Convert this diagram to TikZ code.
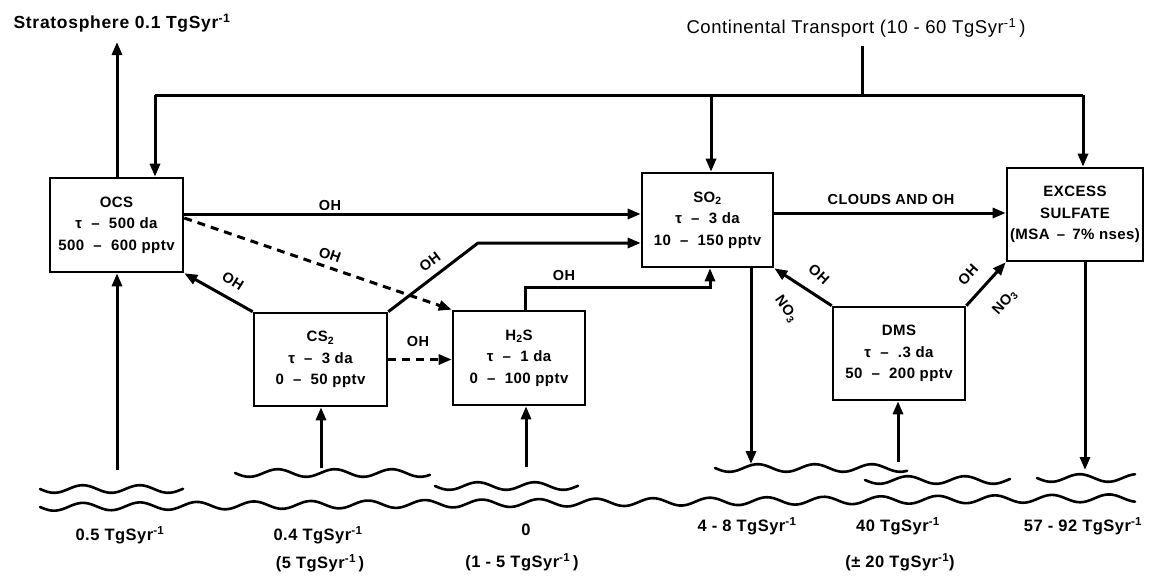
\documentclass[tikz,border=0pt]{standalone}
\usepackage{fontspec}
\setmainfont{Liberation Sans}
\usetikzlibrary{arrows.meta}
\newcommand\tgyr{TgSyr\textsuperscript{-1}}
\tikzset{
  box/.style={draw, line width=2.6pt, align=center, inner sep=0pt,
    font=\bfseries\fontsize{15}{21.5}\selectfont\addfontfeature{LetterSpace=3}},
  lab/.style={font=\bfseries\fontsize{14.5}{16}\selectfont\addfontfeature{LetterSpace=3}, inner sep=0pt},
  flux/.style={font=\bfseries\fontsize{16.5}{18}\selectfont\addfontfeature{LetterSpace=3}, inner sep=0pt},
  ln/.style={line width=3pt},
  arr/.style={line width=3pt, -{Triangle[length=13pt,width=10pt]}},
  darr/.style={line width=3pt, dash pattern=on 8pt off 6pt, -{Triangle[length=13pt,width=10pt]}},
  wv/.style={line width=2.6pt, line cap=round}
}
\begin{document}
\begin{tikzpicture}[x=1pt,y=-1pt]
\useasboundingbox (0,0) rectangle (1156,576);
% boxes
\node[box, minimum width=133pt, minimum height=94pt] (ocs) at (116.5,225) {OCS\\ τ \ – \ 500 da\\ 500 \ – \ 600 pptv};
\node[box, minimum width=133pt, minimum height=93pt] (cs2) at (320.5,359.5) {CS\textsubscript{2}\\ τ \ – \ 3 da\\ 0 \ – \ 50 pptv};
\node[box, minimum width=132pt, minimum height=94pt] (h2s) at (519,358) {H\textsubscript{2}S\\ τ \ – \ 1 da\\ 0 \ – \ 100 pptv};
\node[box, minimum width=131pt, minimum height=94pt] (so2) at (707.5,220) {SO\textsubscript{2}\\ τ \ – \ 3 da\\ 10 \ – \ 150 pptv};
\node[box, minimum width=136pt, minimum height=93pt] (exc) at (1075,214.5) {EXCESS\\ SULFATE\\ (MSA \,–\, 7\% nses)};
\node[box, minimum width=132pt, minimum height=93pt] (dms) at (899,353.5) {DMS\\ τ \ – \ .3 da\\ 50 \ – \ 200 pptv};
% top texts
\node[font=\bfseries\fontsize{17.5}{19}\selectfont\addfontfeature{LetterSpace=4}, inner sep=0pt] (strat) at (122,23) {Stratosphere 0.1 \tgyr};
\node[font=\fontsize{18.5}{20}\selectfont\addfontfeature{LetterSpace=3}, inner sep=0pt] (cont) at (856,28) {Continental Transport (10 - 60 \tgyr\,)};
% coordinates
\coordinate (sttip) at (117,42);
\coordinate (cjtop) at (862,46);
\coordinate (cj) at (862,95);
\coordinate (tl) at (155,95);
\coordinate (tm) at (711,95);
\coordinate (tr) at (1083,95);
\coordinate (cbend) at (478,243);
\coordinate (ha) at (525,287);
\coordinate (hb) at (710,287);
\coordinate (ocsb) at (117,470);
\coordinate (cs2b) at (321,468);
\coordinate (h2sb) at (526,467);
\coordinate (so2b) at (751,464);
\coordinate (dmsb) at (898,462);
\coordinate (excb) at (1085,470);
% stratosphere and continental transport
\draw[arr] (ocs.north -| sttip) -- (sttip);
\draw[ln] (cjtop) -- (cj);
\draw[ln] (tl) -- (tr);
\draw[arr] (tl) -- (tl |- ocs.north);
\draw[arr] (tm) -- (tm |- so2.north);
\draw[arr] (tr) -- (tr |- exc.north);
% OCS -> SO2
\draw[arr] ([yshift=11pt]ocs.east) -- ([yshift=11pt]ocs.east -| so2.west);
\node[lab] (l1) at (330,206) {OH};
% OCS -> H2S dashed
\draw[darr] ([yshift=7pt]ocs.east) -- (h2s.north west);
\node[lab, rotate=-19] (l2) at (330,255) {OH};
% CS2 -> OCS
\draw[arr] (cs2.north west) -- (ocs.south east);
\node[lab, rotate=-32] (l3) at (233,281) {OH};
% CS2 -> SO2
\draw[arr] (cs2.north east) -- (cbend) -- (cbend -| so2.west);
\node[lab, rotate=37] (l4) at (430,262) {OH};
% CS2 -> H2S dashed
\draw[darr] (cs2.east) -- (cs2.east -| h2s.west);
\node[lab] (l5) at (418,342) {OH};
% H2S -> SO2
\draw[arr] (ha |- h2s.north) -- (ha) -- (hb) -- (hb |- so2.south);
\node[lab] (l6) at (564,276) {OH};
% SO2 -> EXCESS
\draw[arr] ([yshift=7pt]so2.east) -- ([yshift=7pt]so2.east -| exc.west);
\node[lab] (l7) at (891,200) {CLOUDS AND OH};
% DMS -> SO2
\draw[arr] (dms.north west) -- (so2.south east);
\node[lab, rotate=-42] (l8) at (819,274) {OH};
\node[lab, rotate=-55] (l9) at (786,309) {NO\textsubscript{3}};
% DMS -> EXCESS
\draw[arr] (dms.north east) -- (exc.south west);
\node[lab, rotate=48] (l10) at (968,275) {OH};
\node[lab, rotate=48] (l11) at (1005,302) {NO\textsubscript{3}};
% surface fluxes
\draw[arr] (ocsb) -- (ocsb |- ocs.south);
\draw[arr] (cs2b) -- (cs2b |- cs2.south);
\draw[arr] (h2sb) -- (h2sb |- h2s.south);
\draw[arr] (so2b |- so2.south) -- (so2b);
\draw[arr] (dmsb) -- (dmsb |- dms.south);
\draw[arr] (excb |- exc.south) -- (excb);
% waves
\draw[wv] plot[domain=40:1135, samples=400, smooth] (\x, {507 - (\x-40)/1095*9 + 3.8*sin((\x-40)/57*360)});
\draw[wv] plot[domain=40:183, samples=60, smooth] (\x, {489 + 3.8*sin((\x-40)/57*360)});
\draw[wv] plot[domain=235:430, samples=80, smooth] (\x, {473 + 3.8*sin((\x-235)/57*360)});
\draw[wv] plot[domain=435:578, samples=60, smooth] (\x, {486 + 3.8*sin((\x-435)/57*360)});
\draw[wv] plot[domain=715:907, samples=80, smooth] (\x, {468 + 3.8*sin((\x-715)/57*360)});
\draw[wv] plot[domain=865:1010, samples=60, smooth] (\x, {480 + 3.8*sin((\x-865)/57*360)});
\draw[wv] plot[domain=1037:1135, samples=50, smooth] (\x, {478 + 3.8*sin((\x-1037)/57*360)});
% flux labels
\node[flux] (f1) at (120,535) {0.5 \tgyr};
\node[flux] (f2) at (318,535) {0.4 \tgyr};
\node[flux] (f2b) at (320,563) {(5 \tgyr\,)};
\node[flux] (f3) at (526,530) {0};
\node[flux] (f3b) at (522,562) {(1 - 5 \tgyr\,)};
\node[flux] (f4) at (747,526) {4 - 8 \tgyr};
\node[flux] (f5) at (898,526) {40 \tgyr};
\node[flux] (f5b) at (900,562) {(± 20 \tgyr)};
\node[flux] (f6) at (1083,526) {57 - 92 \tgyr};
\end{tikzpicture}
\end{document}
